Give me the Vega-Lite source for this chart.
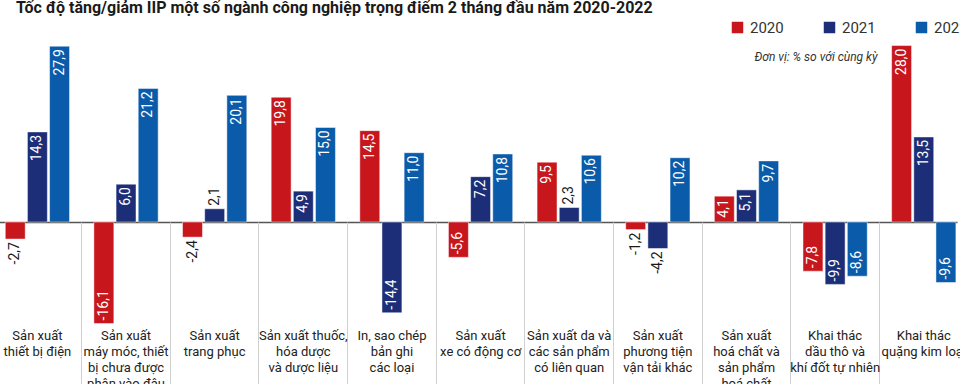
{
  "$schema": "https://vega.github.io/schema/vega-lite/v6.json",
  "padding": {"left": -18, "top": 0, "right": 0, "bottom": 0},
  "background": "white",
  "config": {"view": {"stroke": null}, "font": "Roboto"},
  "width": 975, "height": 288,
  "title": {
    "text": "Tốc độ tăng/giảm IIP một số ngành công nghiệp trọng điểm 2 tháng đầu năm 2020-2022",
    "anchor": "start", "frame": "group", "offset": 4, "dx": 34,
    "fontSize": 16, "fontWeight": "bold", "color": "#1a1a1a"
  },
  "data": {"values": [
      {"cat": "Sản xuất|thiết bị điện", "year": "2020", "v": -2.7},
      {"cat": "Sản xuất|thiết bị điện", "year": "2021", "v": 14.3},
      {"cat": "Sản xuất|thiết bị điện", "year": "2022", "v": 27.9},
      {"cat": "Sản xuất|máy móc, thiết|bị chưa được|phân vào đâu", "year": "2020", "v": -16.1},
      {"cat": "Sản xuất|máy móc, thiết|bị chưa được|phân vào đâu", "year": "2021", "v": 6.0},
      {"cat": "Sản xuất|máy móc, thiết|bị chưa được|phân vào đâu", "year": "2022", "v": 21.2},
      {"cat": "Sản xuất|trang phục", "year": "2020", "v": -2.4},
      {"cat": "Sản xuất|trang phục", "year": "2021", "v": 2.1},
      {"cat": "Sản xuất|trang phục", "year": "2022", "v": 20.1},
      {"cat": "Sản xuất thuốc,|hóa dược|và dược liệu", "year": "2020", "v": 19.8},
      {"cat": "Sản xuất thuốc,|hóa dược|và dược liệu", "year": "2021", "v": 4.9},
      {"cat": "Sản xuất thuốc,|hóa dược|và dược liệu", "year": "2022", "v": 15.0},
      {"cat": "In, sao chép|bản ghi|các loại", "year": "2020", "v": 14.5},
      {"cat": "In, sao chép|bản ghi|các loại", "year": "2021", "v": -14.4},
      {"cat": "In, sao chép|bản ghi|các loại", "year": "2022", "v": 11.0},
      {"cat": "Sản xuất|xe có động cơ", "year": "2020", "v": -5.6},
      {"cat": "Sản xuất|xe có động cơ", "year": "2021", "v": 7.2},
      {"cat": "Sản xuất|xe có động cơ", "year": "2022", "v": 10.8},
      {"cat": "Sản xuất da và|các sản phẩm|có liên quan", "year": "2020", "v": 9.5},
      {"cat": "Sản xuất da và|các sản phẩm|có liên quan", "year": "2021", "v": 2.3},
      {"cat": "Sản xuất da và|các sản phẩm|có liên quan", "year": "2022", "v": 10.6},
      {"cat": "Sản xuất|phương tiện|vận tải khác", "year": "2020", "v": -1.2},
      {"cat": "Sản xuất|phương tiện|vận tải khác", "year": "2021", "v": -4.2},
      {"cat": "Sản xuất|phương tiện|vận tải khác", "year": "2022", "v": 10.2},
      {"cat": "Sản xuất|hoá chất và|sản phẩm|hoá chất", "year": "2020", "v": 4.1},
      {"cat": "Sản xuất|hoá chất và|sản phẩm|hoá chất", "year": "2021", "v": 5.1},
      {"cat": "Sản xuất|hoá chất và|sản phẩm|hoá chất", "year": "2022", "v": 9.7},
      {"cat": "Khai thác|dầu thô và|khí đốt tự nhiên", "year": "2020", "v": -7.8},
      {"cat": "Khai thác|dầu thô và|khí đốt tự nhiên", "year": "2021", "v": -9.9},
      {"cat": "Khai thác|dầu thô và|khí đốt tự nhiên", "year": "2022", "v": -8.6},
      {"cat": "Khai thác|quặng kim loại", "year": "2020", "v": 28.0},
      {"cat": "Khai thác|quặng kim loại", "year": "2021", "v": 13.5},
      {"cat": "Khai thác|quặng kim loại", "year": "2022", "v": -9.6}
  ]},
  "transform": [{"calculate": "datum.cat + '#' + datum.year", "as": "key"}],
  "encoding": {
    "x": {
      "field": "key", "type": "nominal",
      "scale": {
        "paddingInner": 0.1, "paddingOuter": 0.05,
        "domain": [
          "gap1", "Sản xuất|thiết bị điện#2020", "Sản xuất|thiết bị điện#2021", "Sản xuất|thiết bị điện#2022",
          "gap2", "Sản xuất|máy móc, thiết|bị chưa được|phân vào đâu#2020", "Sản xuất|máy móc, thiết|bị chưa được|phân vào đâu#2021", "Sản xuất|máy móc, thiết|bị chưa được|phân vào đâu#2022",
          "gap3", "Sản xuất|trang phục#2020", "Sản xuất|trang phục#2021", "Sản xuất|trang phục#2022",
          "gap4", "Sản xuất thuốc,|hóa dược|và dược liệu#2020", "Sản xuất thuốc,|hóa dược|và dược liệu#2021", "Sản xuất thuốc,|hóa dược|và dược liệu#2022",
          "gap5", "In, sao chép|bản ghi|các loại#2020", "In, sao chép|bản ghi|các loại#2021", "In, sao chép|bản ghi|các loại#2022",
          "gap6", "Sản xuất|xe có động cơ#2020", "Sản xuất|xe có động cơ#2021", "Sản xuất|xe có động cơ#2022",
          "gap7", "Sản xuất da và|các sản phẩm|có liên quan#2020", "Sản xuất da và|các sản phẩm|có liên quan#2021", "Sản xuất da và|các sản phẩm|có liên quan#2022",
          "gap8", "Sản xuất|phương tiện|vận tải khác#2020", "Sản xuất|phương tiện|vận tải khác#2021", "Sản xuất|phương tiện|vận tải khác#2022",
          "gap9", "Sản xuất|hoá chất và|sản phẩm|hoá chất#2020", "Sản xuất|hoá chất và|sản phẩm|hoá chất#2021", "Sản xuất|hoá chất và|sản phẩm|hoá chất#2022",
          "gap10", "Khai thác|dầu thô và|khí đốt tự nhiên#2020", "Khai thác|dầu thô và|khí đốt tự nhiên#2021", "Khai thác|dầu thô và|khí đốt tự nhiên#2022",
          "gap11", "Khai thác|quặng kim loại#2020", "Khai thác|quặng kim loại#2021", "Khai thác|quặng kim loại#2022"
        ]
      },
      "axis": {
        "values": ["gap2", "gap3", "gap4", "gap5", "gap6", "gap7", "gap8", "gap9", "gap10", "gap11"],
        "offset": -104, "domain": false, "labels": false, "grid": false,
        "ticks": true, "tickSize": 176, "tickColor": "#d0d0d0", "tickWidth": 1,
        "title": "Nguồn: Tổng cục Thống kê",
        "titleX": 973, "titleY": 169, "titleAlign": "right", "titleBaseline": "middle",
        "titleFontStyle": "italic", "titleFontWeight": "normal", "titleFontSize": 12, "titleColor": "#222"
      }
    }
  },
  "layer": [
    {
      "mark": {"type": "bar", "stroke": "white", "strokeWidth": 0.8, "strokeOpacity": 0.6},
      "encoding": {
        "y": {
          "field": "v", "type": "quantitative",
          "scale": {"domain": [-16.5, 29.2], "nice": false, "zero": false},
          "axis": {
            "values": [0], "grid": true, "gridColor": "#555555", "gridWidth": 1.5,
            "labels": false, "ticks": false, "domain": false,
            "title": "Đơn vị: % so với cùng kỳ", "titleAngle": 0,
            "titleX": 895, "titleY": 18, "titleAlign": "right", "titleBaseline": "middle",
            "titleFontStyle": "italic", "titleFontWeight": "normal", "titleFontSize": 12, "titleColor": "#333"
          }
        },
        "color": {
          "field": "year", "type": "nominal",
          "scale": {"domain": ["2020", "2021", "2022"], "range": ["#c8161d", "#1d2e78", "#0a5cab"]},
          "legend": {
            "title": null, "orient": "none", "legendX": 748, "legendY": -18,
            "direction": "horizontal", "symbolType": "square", "symbolSize": 169,
            "labelFontSize": 15, "labelColor": "#333", "columnPadding": 36, "labelOffset": 5
          }
        }
      }
    },
    {
      "transform": [{"filter": "datum.year == '2021'"}],
      "mark": {"type": "text", "lineBreak": "|", "baseline": "top", "align": "center", "dy": 4, "fontSize": 13, "lineHeight": 16, "color": "#222"},
      "encoding": {
        "y": {"datum": -16.5, "type": "quantitative"},
        "text": {"field": "cat", "type": "nominal"}
      }
    },
    {
      "transform": [
        {"calculate": "(datum.v < 0 ? '-' : '') + replace(format(abs(datum.v), '.1f'), '.', ',')", "as": "lab"},
        {"calculate": "datum.v >= 4 || datum.v <= -5", "as": "inside"},
        {"filter": "(datum.v >= 0 && !datum.inside) || (datum.v < 0 && datum.inside)"}
      ],
      "mark": {"type": "text", "angle": 270, "align": "left", "baseline": "middle", "dx": 3, "fontSize": 14},
      "encoding": {
        "y": {"field": "v", "type": "quantitative"},
        "text": {"field": "lab", "type": "nominal"},
        "color": {"condition": {"test": "datum.inside", "value": "white"}, "value": "#1a1a1a"}
      }
    },
    {
      "transform": [
        {"calculate": "(datum.v < 0 ? '-' : '') + replace(format(abs(datum.v), '.1f'), '.', ',')", "as": "lab"},
        {"calculate": "datum.v >= 4 || datum.v <= -5", "as": "inside"},
        {"filter": "(datum.v >= 0 && datum.inside) || (datum.v < 0 && !datum.inside)"}
      ],
      "mark": {"type": "text", "angle": 270, "align": "right", "baseline": "middle", "dx": -3, "fontSize": 14},
      "encoding": {
        "y": {"field": "v", "type": "quantitative"},
        "text": {"field": "lab", "type": "nominal"},
        "color": {"condition": {"test": "datum.inside", "value": "white"}, "value": "#1a1a1a"}
      }
    }
  ]
}
